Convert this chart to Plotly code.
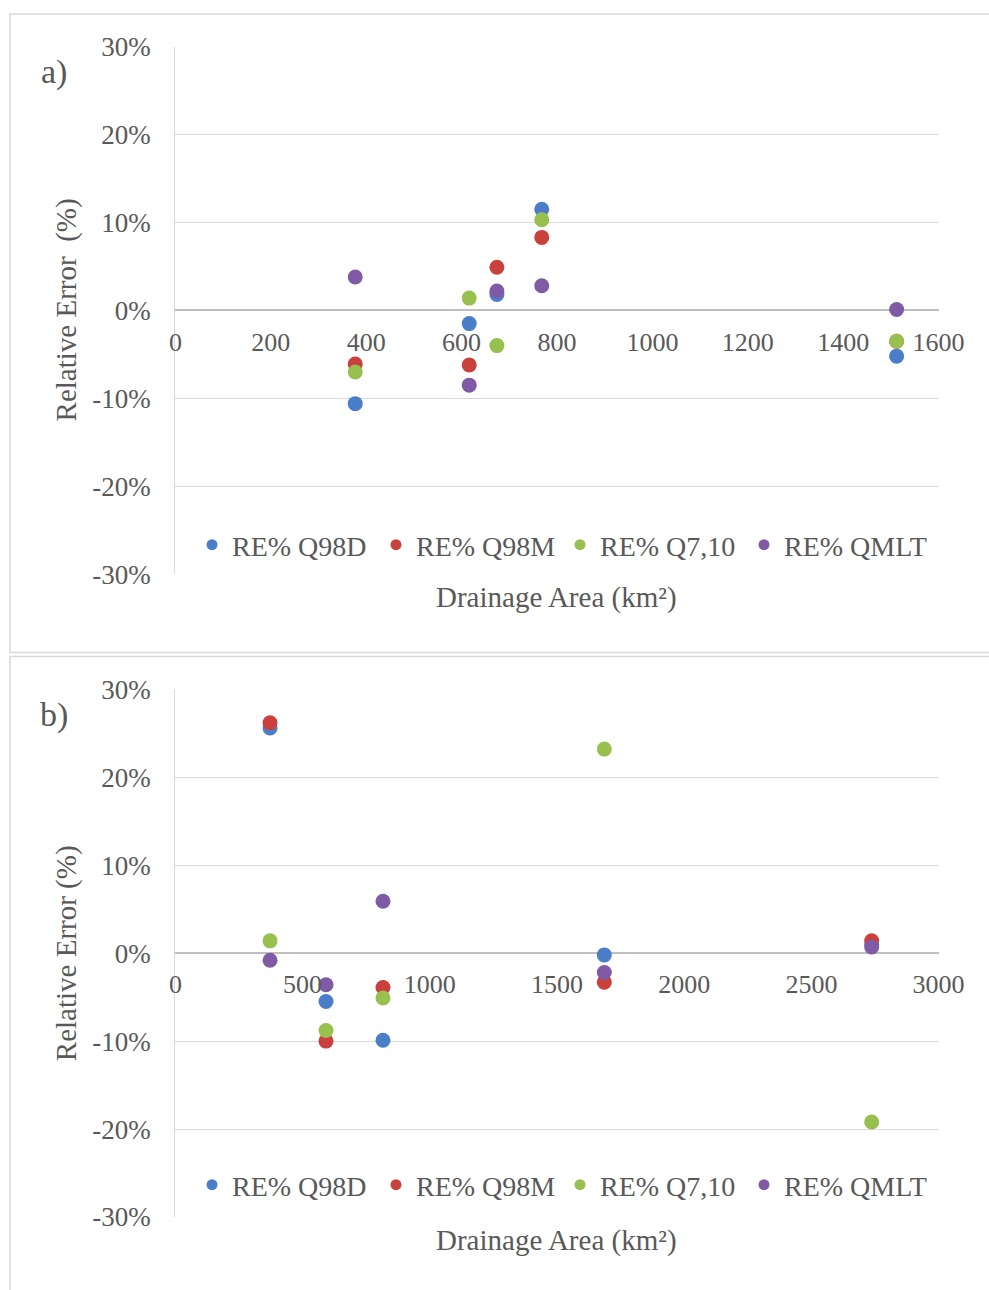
import plotly.graph_objects as go

# ---------------- data ----------------
series_names = ["RE% Q98D", "RE% Q98M", "RE% Q7,10", "RE% QMLT"]
series_colors = ["#4A7EC8", "#C9403C", "#97C04E", "#7F5BA6"]

# panel a
area_a = [377, 616, 674, 768, 1512]
q98d_a = [-10.6, -1.5, 1.8, 11.5, -5.2]
q98m_a = [-6.1, -6.2, 4.9, 8.3, -3.5]
q710_a = [-7.0, 1.4, -4.0, 10.3, -3.5]
qmlt_a = [3.8, -8.5, 2.2, 2.8, 0.1]

# panel b
area_b = [372, 592, 816, 1686, 2737]
q98d_b = [25.6, -5.5, -9.9, -0.2, 1.0]
q98m_b = [26.2, -10.0, -3.9, -3.3, 1.4]
q710_b = [1.4, -8.8, -5.1, 23.2, -19.2]
qmlt_b = [-0.8, -3.6, 5.9, -2.2, 0.7]

y_tickvals = [-30, -20, -10, 0, 10, 20, 30]
y_ticktext = ["-30%", "-20%", "-10%", "0%", "10%", "20%", "30%"]
x_ticks_a = [0, 200, 400, 600, 800, 1000, 1200, 1400, 1600]
x_ticks_b = [0, 500, 1000, 1500, 2000, 2500, 3000]

# ---------------- layout helpers ----------------
W, H = 989, 1290
L, R = 175.4, 938.6
A_TOP, A_BOT, A_ZERO = 46.5, 574.3, 310.4
B_TOP, B_BOT, B_ZERO = 689.3, 1217.0, 953.2

def py(p):
    return 1 - p / H

def px(p):
    return p / W

TXT = "#595959"
FONT = "Liberation Serif"
GRID = "#D9D9D9"

fig = go.Figure()

panels = [
    ("x", "y", "legend", area_a, [q98d_a, q98m_a, q710_a, qmlt_a]),
    ("x2", "y2", "legend2", area_b, [q98d_b, q98m_b, q710_b, qmlt_b]),
]
for xa, ya, lg, xs, ys in panels:
    for name, col, yv in zip(series_names, series_colors, ys):
        fig.add_trace(go.Scatter(
            x=xs, y=yv, mode="markers", name=name, xaxis=xa, yaxis=ya,
            marker=dict(size=15, color=col), showlegend=False, legend=lg,
            hoverinfo="x+y+name"))
    for name, col in zip(series_names, series_colors):
        fig.add_trace(go.Scatter(
            x=[None], y=[None], mode="markers", name=name, xaxis=xa, yaxis=ya,
            marker=dict(size=11, color=col), showlegend=True, legend=lg))

yaxis_common = dict(
    range=[-30, 30], tickvals=y_tickvals, ticktext=y_ticktext,
    showgrid=True, gridcolor=GRID, gridwidth=1.3,
    zeroline=True, zerolinecolor="#BFBFBF", zerolinewidth=1.5,
    showline=True, linecolor=GRID, linewidth=1.3,
    ticks="outside", ticklen=18, tickcolor="rgba(0,0,0,0)",
    tickfont=dict(family=FONT, size=27, color=TXT),
    automargin=False, fixedrange=True,
)
xaxis_common = dict(
    showgrid=False, zeroline=False, showline=False,
    ticks="outside", ticklen=8, tickcolor="rgba(0,0,0,0)",
    tickfont=dict(family=FONT, size=26, color=TXT),
    domain=[px(L), px(R)], anchor="free",
    automargin=False, fixedrange=True,
)

leg_common = dict(orientation="h", xanchor="left", yanchor="middle",
                  bgcolor="rgba(0,0,0,0)", entrywidth=139,
                  font=dict(family=FONT, size=28, color=TXT))

fig.update_layout(
    width=W, height=H, autosize=False,
    margin=dict(l=0, r=0, t=0, b=0, autoexpand=False),
    paper_bgcolor="white", plot_bgcolor="white",
    xaxis=dict(xaxis_common, range=[0, 1600], tickvals=x_ticks_a,
               position=py(A_ZERO)),
    yaxis=dict(yaxis_common, domain=[py(A_BOT), py(A_TOP)], anchor="x"),
    xaxis2=dict(xaxis_common, range=[0, 3000], tickvals=x_ticks_b,
                position=py(B_ZERO)),
    yaxis2=dict(yaxis_common, domain=[py(B_BOT), py(B_TOP)], anchor="x2"),
    legend=dict(leg_common, x=px(192), y=py(545)),
    legend2=dict(leg_common, x=px(192), y=py(1185)),
    showlegend=True,
)

# panel frames
fig.add_shape(type="rect", xref="paper", yref="paper",
              x0=px(10), x1=1.05, y0=py(652.5), y1=py(14),
              line=dict(color=GRID, width=1.5), layer="below")
fig.add_shape(type="rect", xref="paper", yref="paper",
              x0=px(10), x1=1.05, y0=-0.05, y1=py(656.5),
              line=dict(color=GRID, width=1.5), layer="below")

ann = []
for lab, ly in (("a)", 72), ("b)", 715)):
    ann.append(dict(text=lab, x=px(54), y=py(ly), xref="paper", yref="paper",
                    showarrow=False, font=dict(family=FONT, size=34, color=TXT),
                    xanchor="center", yanchor="middle"))
for title, ty in (("Relative Error  (%)", A_ZERO), ("Relative Error (%)", B_ZERO)):
    ann.append(dict(text=title, x=px(66), y=py(ty), xref="paper", yref="paper",
                    showarrow=False, textangle=-90,
                    font=dict(family=FONT, size=29, color=TXT),
                    xanchor="center", yanchor="middle"))
for ty in (597, 1240):
    ann.append(dict(text="Drainage Area (km²)", x=px(556), y=py(ty),
                    xref="paper", yref="paper", showarrow=False,
                    font=dict(family=FONT, size=29, color=TXT),
                    xanchor="center", yanchor="middle"))
fig.update_layout(annotations=ann)

fig.write_html("out.html",
               post_script="document.body.style.margin='0';",
               config={"displayModeBar": False})
